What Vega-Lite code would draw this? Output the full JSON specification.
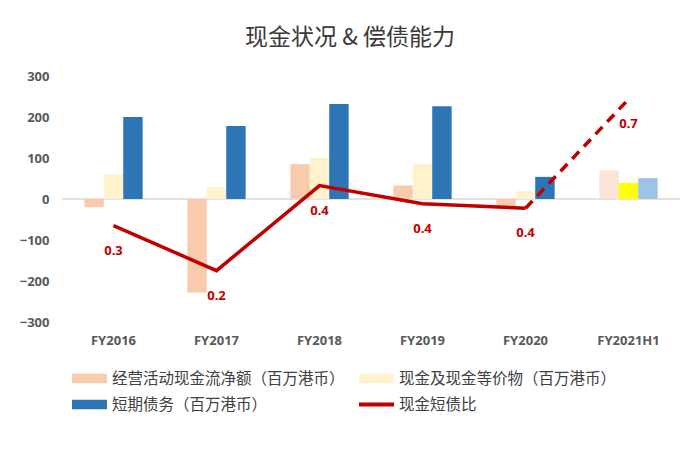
{
  "$schema": "https://vega.github.io/schema/vega-lite/v6.json",
  "autosize": "none",
  "width": 618,
  "height": 246,
  "padding": {"left": 62, "top": 76, "right": 20, "bottom": 144},
  "background": "white",
  "title": {"text": "现金状况 & 偿债能力", "fontSize": 23, "font": "Noto Sans CJK SC", "fontWeight": "normal", "color": "#3a3a3a", "anchor": "middle", "dx": -21, "offset": 20},
  "config": {"view": {"stroke": null}, "font": "Noto Sans"},
  "datasets": {
    "bars": [
      {"year": "FY2016", "series": "经营活动现金流净额（百万港币）", "value": -20},
      {"year": "FY2016", "series": "现金及现金等价物（百万港币）", "value": 60},
      {"year": "FY2016", "series": "短期债务（百万港币）", "value": 200},
      {"year": "FY2017", "series": "经营活动现金流净额（百万港币）", "value": -228},
      {"year": "FY2017", "series": "现金及现金等价物（百万港币）", "value": 29},
      {"year": "FY2017", "series": "短期债务（百万港币）", "value": 178},
      {"year": "FY2018", "series": "经营活动现金流净额（百万港币）", "value": 85},
      {"year": "FY2018", "series": "现金及现金等价物（百万港币）", "value": 100},
      {"year": "FY2018", "series": "短期债务（百万港币）", "value": 232},
      {"year": "FY2019", "series": "经营活动现金流净额（百万港币）", "value": 33},
      {"year": "FY2019", "series": "现金及现金等价物（百万港币）", "value": 86},
      {"year": "FY2019", "series": "短期债务（百万港币）", "value": 226},
      {"year": "FY2020", "series": "经营活动现金流净额（百万港币）", "value": -19},
      {"year": "FY2020", "series": "现金及现金等价物（百万港币）", "value": 19},
      {"year": "FY2020", "series": "短期债务（百万港币）", "value": 54},
      {"year": "FY2021H1", "series": "经营活动现金流净额（百万港币）", "value": 70},
      {"year": "FY2021H1", "series": "现金及现金等价物（百万港币）", "value": 39},
      {"year": "FY2021H1", "series": "短期债务（百万港币）", "value": 51}
    ],
    "ratio": [
      {"year": "FY2016", "ratio": 0.331},
      {"year": "FY2017", "ratio": 0.2},
      {"year": "FY2018", "ratio": 0.448},
      {"year": "FY2019", "ratio": 0.395},
      {"year": "FY2020", "ratio": 0.382},
      {"year": "FY2021H1", "ratio": 0.7}
    ]
  },
  "layer": [
    {
      "layer": [
        {
          "data": {"values": [{"v": 0}]},
          "mark": {"type": "rule", "color": "#d9d9d9", "strokeWidth": 1.5},
          "encoding": {"y": {"field": "v", "type": "quantitative"}}
        },
        {
          "data": {"name": "bars"},
          "mark": {"type": "bar"},
          "encoding": {
            "x": {"field": "year", "type": "nominal", "sort": null,
              "scale": {"paddingInner": 0.434, "paddingOuter": 0.217},
              "axis": {"title": null, "domain": false, "ticks": false, "labelPadding": 12, "labelAngle": 0, "labelFontWeight": "bold", "labelColor": "#595959", "labelFontSize": 13}},
            "xOffset": {"field": "series", "type": "nominal", "scale": {"domain": ["经营活动现金流净额（百万港币）", "现金及现金等价物（百万港币）", "短期债务（百万港币）"]}},
            "y": {"field": "value", "type": "quantitative",
              "scale": {"domain": [-300, 300], "nice": false},
              "axis": {"values": [-300, -200, -100, 0, 100, 200, 300], "grid": false, "domain": false, "ticks": false, "labelPadding": 13, "title": null, "labelFontWeight": "bold", "labelColor": "#595959", "labelFontSize": 13}},
            "color": {
              "condition": [
                {"test": "datum.year === 'FY2021H1' && datum.series === '经营活动现金流净额（百万港币）'", "value": "#fbe3d5"},
                {"test": "datum.year === 'FY2021H1' && datum.series === '现金及现金等价物（百万港币）'", "value": "#ffff00"},
                {"test": "datum.year === 'FY2021H1' && datum.series === '短期债务（百万港币）'", "value": "#9dc3e6"}
              ],
              "field": "series", "type": "nominal",
              "scale": {"domain": ["经营活动现金流净额（百万港币）", "现金及现金等价物（百万港币）", "短期债务（百万港币）", "现金短债比"],
                        "range": ["#f8cbad", "#fff2cc", "#2e75b6", "#c00000"]},
              "legend": {"orient": "none", "legendX": 10, "legendY": 285, "direction": "horizontal", "columns": 2, "title": null,
                "labelFont": "Noto Sans CJK SC", "labelFontSize": 15.5, "labelColor": "#404040",
                "symbolType": "M-1,-0.27H1V0.27H-1Z", "symbolSize": 1225, "symbolStrokeWidth": 0, "symbolOpacity": 1,
                "labelOffset": 5, "columnPadding": 14, "rowPadding": -4, "labelLimit": 400,
                "encode": {"symbols": {"update": {"shape": [{"test": "datum.value === '现金短债比'", "value": "M-1,-0.12H1V0.12H-1Z"}, {"value": "M-1,-0.27H1V0.27H-1Z"}]}}}}
            }
          }
        }
      ]
    },
    {
      "data": {"name": "ratio"},
      "encoding": {
        "x": {"field": "year", "type": "nominal", "sort": null},
        "y": {"field": "ratio", "type": "quantitative", "scale": {"domain": [0.05, 0.768], "nice": false, "zero": false}, "axis": null}
      },
      "layer": [
        {
          "transform": [{"filter": "datum.year !== 'FY2021H1'"}],
          "mark": {"type": "line", "color": "#c00000", "strokeWidth": 3.5}
        },
        {
          "transform": [{"filter": "datum.year === 'FY2020' || datum.year === 'FY2021H1'"}],
          "mark": {"type": "line", "color": "#c00000", "strokeWidth": 3.5, "strokeDash": [10, 7]}
        },
        {
          "mark": {"type": "text", "dy": 25, "fontWeight": "bold", "fontSize": 13, "color": "#c00000"},
          "encoding": {"text": {"field": "ratio", "type": "quantitative", "format": ".1f"}}
        }
      ]
    }
  ],
  "resolve": {"scale": {"y": "independent"}}
}
